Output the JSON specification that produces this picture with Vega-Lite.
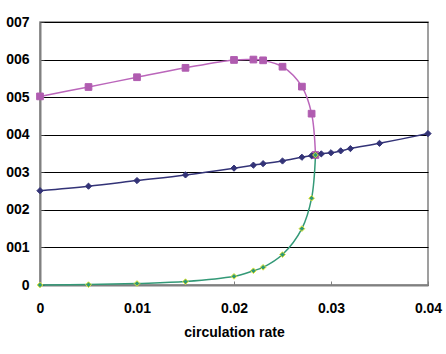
{
  "$schema": "https://vega.github.io/schema/vega-lite/v6.json",
  "width": 388,
  "height": 263,
  "autosize": {"type": "none"},
  "padding": {"left": 40, "top": 22, "right": 18, "bottom": 69},
  "background": "white",
  "config": {
    "view": {"stroke": "#808080", "strokeWidth": 1.5},
    "axis": {"labelFont": "Liberation Sans", "titleFont": "Liberation Sans", "labelFontWeight": "bold", "titleFontWeight": "bold", "labelColor": "black", "titleColor": "black"}
  },
  "data": {"values": [
    {"series": "A", "x": 0, "y": 0.00502},
    {"series": "A", "x": 0.005, "y": 0.00527},
    {"series": "A", "x": 0.01, "y": 0.00553},
    {"series": "A", "x": 0.015, "y": 0.00578},
    {"series": "A", "x": 0.02, "y": 0.00599},
    {"series": "A", "x": 0.022, "y": 0.006},
    {"series": "A", "x": 0.023, "y": 0.00598},
    {"series": "A", "x": 0.025, "y": 0.00581},
    {"series": "A", "x": 0.027, "y": 0.00528},
    {"series": "A", "x": 0.028, "y": 0.00456},
    {"series": "A", "x": 0.0284, "y": 0.00346},
    {"series": "B", "x": 0, "y": 0.00251},
    {"series": "B", "x": 0.005, "y": 0.00263},
    {"series": "B", "x": 0.01, "y": 0.00278},
    {"series": "B", "x": 0.015, "y": 0.00293},
    {"series": "B", "x": 0.02, "y": 0.00311},
    {"series": "B", "x": 0.022, "y": 0.00319},
    {"series": "B", "x": 0.023, "y": 0.00323},
    {"series": "B", "x": 0.025, "y": 0.0033},
    {"series": "B", "x": 0.027, "y": 0.0034},
    {"series": "B", "x": 0.028, "y": 0.00344},
    {"series": "B", "x": 0.0284, "y": 0.00346},
    {"series": "B", "x": 0.029, "y": 0.00349},
    {"series": "B", "x": 0.03, "y": 0.00352},
    {"series": "B", "x": 0.031, "y": 0.00357},
    {"series": "B", "x": 0.032, "y": 0.00363},
    {"series": "B", "x": 0.035, "y": 0.00377},
    {"series": "B", "x": 0.04, "y": 0.00403},
    {"series": "C", "x": 0, "y": 0},
    {"series": "C", "x": 0.005, "y": 0.00001},
    {"series": "C", "x": 0.01, "y": 0.00004},
    {"series": "C", "x": 0.015, "y": 0.00009},
    {"series": "C", "x": 0.02, "y": 0.00023},
    {"series": "C", "x": 0.022, "y": 0.00038},
    {"series": "C", "x": 0.023, "y": 0.00047},
    {"series": "C", "x": 0.025, "y": 0.00081},
    {"series": "C", "x": 0.027, "y": 0.0015},
    {"series": "C", "x": 0.028, "y": 0.00231},
    {"series": "C", "x": 0.0284, "y": 0.00346}
  ]},
  "encoding": {
    "x": {"field": "x", "type": "quantitative",
      "scale": {"domain": [0, 0.04], "nice": false, "zero": false},
      "axis": {"values": [0, 0.01, 0.02, 0.03, 0.04], "format": ".2~f", "grid": false,
        "title": "circulation rate", "titleFontSize": 14, "titlePadding": 10,
        "labelFontSize": 14, "labelPadding": 20, "tickSize": -4, "tickColor": "#808080",
        "domainColor": "#808080", "domainWidth": 2, "labelFlush": false}},
    "y": {"field": "y", "type": "quantitative",
      "scale": {"domain": [0, 0.007], "nice": false},
      "axis": {"values": [0, 0.001, 0.002, 0.003, 0.004, 0.005, 0.006, 0.007], "format": ".3f",
        "labelExpr": "datum.value == 0 ? '0' : replace(datum.label, '0.', '')",
        "title": null, "grid": true, "gridColor": "black", "gridWidth": 1,
        "labelFontSize": 14, "labelPadding": 15, "tickSize": -4, "tickColor": "#333333",
        "domainColor": "#808080", "domainWidth": 2, "labelFlush": false}}
  },
  "layer": [
    {
      "mark": {"type": "line", "interpolate": "catmull-rom", "strokeWidth": 1.5},
      "encoding": {
        "color": {"field": "series", "type": "nominal", "legend": null,
          "scale": {"domain": ["A", "B", "C"], "range": ["#BB66BB", "#333377", "#339977"]}}
      }
    },
    {
      "mark": {"type": "point", "filled": true, "opacity": 1},
      "encoding": {
        "shape": {"field": "series", "type": "nominal", "legend": null,
          "scale": {"domain": ["A", "B", "C"], "range": ["square", "diamond", "diamond"]}},
        "fill": {"field": "series", "type": "nominal", "legend": null,
          "scale": {"domain": ["A", "B", "C"], "range": ["#B05CB0", "#333377", "#2E9977"]}},
        "stroke": {"field": "series", "type": "nominal", "legend": null,
          "scale": {"domain": ["A", "B", "C"], "range": ["#B05CB0", "#333377", "#E6E633"]}},
        "size": {"field": "series", "type": "nominal", "legend": null,
          "scale": {"domain": ["A", "B", "C"], "range": [45, 32, 70]}},
        "strokeWidth": {"field": "series", "type": "nominal", "legend": null,
          "scale": {"domain": ["A", "B", "C"], "range": [1, 1, 1.2]}}
      }
    }
  ]
}
